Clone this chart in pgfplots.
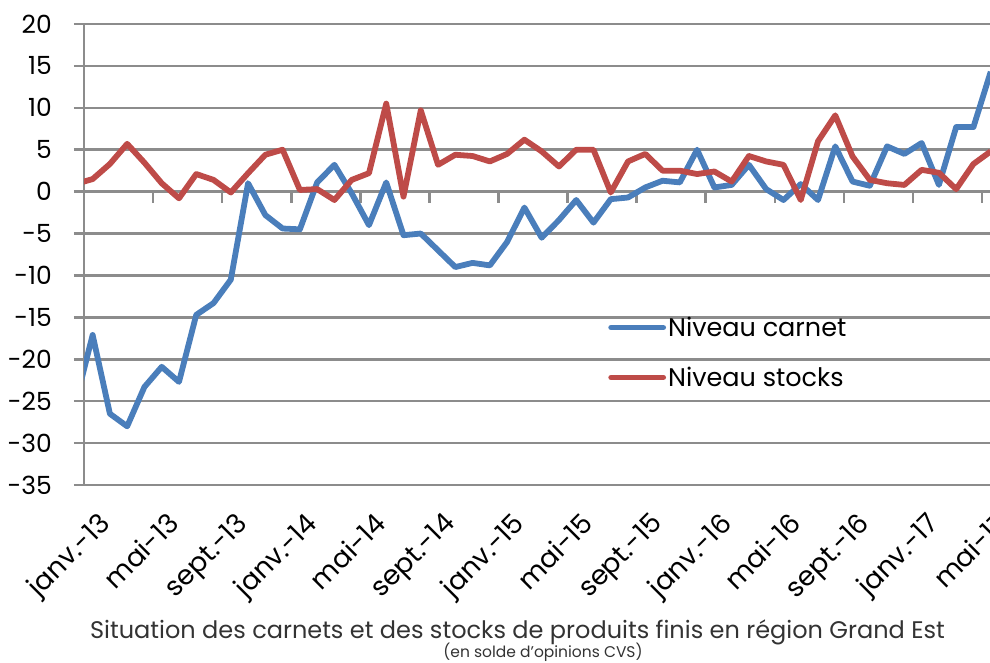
\documentclass[border=0pt]{standalone}
\usepackage{pgfplots}
\pgfplotsset{compat=1.18}
\usepackage{fontspec}
\setmainfont{Poppins}
\definecolor{cblue}{HTML}{4A7EBB}
\definecolor{cred}{HTML}{BE4B48}
\definecolor{cgrid}{HTML}{8C8C8C}
\definecolor{ctitle}{HTML}{333333}
\begin{document}
\begin{tikzpicture}
\useasboundingbox (0,0) rectangle (990pt,663pt);
\begin{axis}[
  at={(84pt,178pt)}, anchor=south west,
  scale only axis, width=906.7pt, height=461pt,
  xmin=0, xmax=52.5, ymin=-35, ymax=20,
  axis x line*=bottom, axis y line*=left,
  x axis line style={draw=none},
  y axis line style={cgrid, line width=2.6pt},
  xtick={0.5,4.5,...,52.5},
  xticklabels={janv.-13,mai-13,sept.-13,janv.-14,mai-14,sept.-14,janv.-15,mai-15,sept.-15,janv.-16,mai-16,sept.-16,janv.-17,mai-17},
  xtick style={draw=none},
  ytick={-35,-30,...,20},
  yticklabels={-35,-30,-25,-20,-15,-10,-5,0,5,10,15,20},
  ytick style={cgrid, line width=2.6pt},
  tick align=outside, major tick length=10pt,
  ymajorgrids, grid style={cgrid, line width=2.6pt},
  tick label style={font=\fontsize{25}{29}\selectfont, text=black},
  y tick label style={anchor=east, inner sep=0pt, xshift=-22pt},
  x tick label style={rotate=45, anchor=north east, inner sep=0pt, yshift=-14pt, xshift=-8pt, font=\fontsize{27}{31}\selectfont},
  legend style={at={(axis description cs:0.578,0.369)}, anchor=north west, draw=none, fill=none,
    font=\fontsize{25.5}{29}\selectfont, row sep=25pt, inner sep=0pt,
    /tikz/every odd column/.append style={column sep=0pt}},
  legend cell align=left,
  legend image code/.code={\draw[#1, line cap=round] (0pt,0pt) -- (52pt,0pt);},
]
\pgfplotsinvokeforeach{4,8,...,52}{\draw[cgrid, line width=2.6pt] (axis cs:#1,0) -- ([yshift=-11pt]axis cs:#1,0);}
\addplot[cblue, line width=5.8pt, line join=round] coordinates {
(-0.5,-25.3)(0.5,-17.1)(1.5,-26.5)(2.5,-28.0)(3.5,-23.3)(4.5,-20.9)(5.5,-22.7)(6.5,-14.7)(7.5,-13.3)(8.5,-10.5)
(9.5,1.0)(10.5,-2.8)(11.5,-4.4)(12.5,-4.5)(13.5,1.1)(14.5,3.2)(15.5,-0.2)(16.5,-4.0)(17.5,1.1)(18.5,-5.2)
(19.5,-5.0)(20.5,-7.0)(21.5,-9.0)(22.5,-8.5)(23.5,-8.8)(24.5,-6.0)(25.5,-1.9)(26.5,-5.5)(27.5,-3.4)(28.5,-1.0)
(29.5,-3.7)(30.5,-0.9)(31.5,-0.7)(32.5,0.5)(33.5,1.3)(34.5,1.1)(35.5,5.0)(36.5,0.5)(37.5,0.8)(38.5,3.2)
(39.5,0.3)(40.5,-1.0)(41.5,0.9)(42.5,-1.0)(43.5,5.4)(44.5,1.2)(45.5,0.7)(46.5,5.4)(47.5,4.5)(48.5,5.8)
(49.5,0.8)(50.5,7.7)(51.5,7.7)(52.5,14.3)};
\addlegendentry{Niveau carnet}
\addplot[cred, line width=5.8pt, line join=round] coordinates {
(-0.5,0.9)(0.5,1.5)(1.5,3.3)(2.5,5.7)(3.5,3.45)(4.5,1.0)(5.5,-0.8)(6.5,2.1)(7.5,1.4)(8.5,-0.1)
(9.5,2.2)(10.5,4.4)(11.5,5.0)(12.5,0.2)(13.5,0.3)(14.5,-1.0)(15.5,1.4)(16.5,2.2)(17.5,10.5)(18.5,-0.6)
(19.5,9.7)(20.5,3.2)(21.5,4.4)(22.5,4.25)(23.5,3.6)(24.5,4.5)(25.5,6.2)(26.5,4.8)(27.5,3.0)(28.5,5.0)
(29.5,5.0)(30.5,-0.1)(31.5,3.6)(32.5,4.5)(33.5,2.5)(34.5,2.5)(35.5,2.1)(36.5,2.4)(37.5,1.2)(38.5,4.25)
(39.5,3.6)(40.5,3.2)(41.5,-1.0)(42.5,6.0)(43.5,9.1)(44.5,4.2)(45.5,1.4)(46.5,1.0)(47.5,0.8)(48.5,2.6)
(49.5,2.25)(50.5,0.3)(51.5,3.3)(52.5,4.8)};
\addlegendentry{Niveau stocks}
\end{axis}
\node[anchor=base, text=ctitle, font=\fontsize{24}{28}\selectfont] at (517.5pt,24.3pt) {Situation des carnets et des stocks de produits finis en région Grand Est};
\node[anchor=base, text=ctitle, font=\fontsize{15.5}{18}\selectfont] at (543pt,5pt) {(en solde d’opinions CVS)};
\end{tikzpicture}
\end{document}
